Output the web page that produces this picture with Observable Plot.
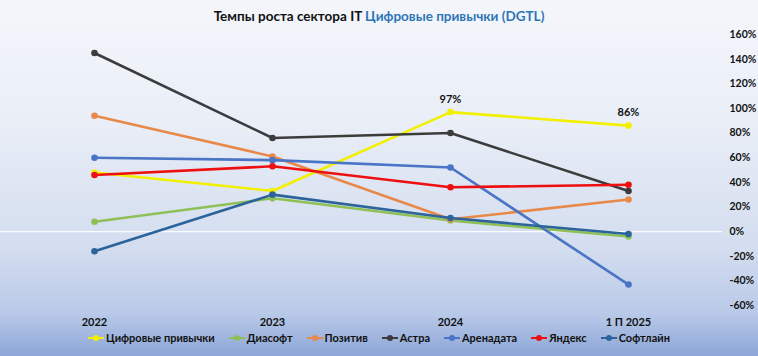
<!DOCTYPE html>
<html>
<head>
<meta charset="utf-8">
<script src="https://cdn.jsdelivr.net/npm/d3@7"></script>
<script src="https://cdn.jsdelivr.net/npm/@observablehq/plot@0.6"></script>
<style>
  html, body { margin: 0; padding: 0; }
  #wrap {
    width: 758px; height: 356px; position: relative; overflow: hidden;
    background: linear-gradient(to bottom, #f4f6fb 0%, #e9eef7 35%, #d3ddef 70%, #b9c9e8 88%, #8ca6d7 100%);
    font-family: Lato, "Noto Sans", sans-serif;
  }
  #title {
    height: 30px; line-height: 33px; text-align: center;
    font-weight: 700; font-size: 13.5px; color: #111;
  }
  #title span { color: #2e75b6; }
  #legend {
    position: absolute; left: 0; top: 331px; width: 758px;
    display: flex; justify-content: center; gap: 14px;
    font-size: 11px; font-weight: 700; color: #111;
  }
  .item { display: flex; align-items: center; gap: 2px; }
  .sw { position: relative; width: 16px; height: 8px; }
  .sw i { position: absolute; left: 0; right: 0; top: 3px; height: 2.5px; }
  .sw b { position: absolute; left: 5px; top: 1px; width: 6px; height: 6px; border-radius: 50%; }
  svg { display: block; overflow: visible; }
</style>
</head>
<body>
<div id="wrap">
  <div id="title">Темпы роста сектора IT <span>Цифровые привычки (DGTL)</span></div>
  <div id="chart"></div>
  <div id="legend"></div>
</div>
<script>
const periods = ["2022", "2023", "2024", "1 П 2025"];
const seriesNames = ["Цифровые привычки", "Диасофт", "Позитив", "Астра", "Аренадата", "Яндекс", "Софтлайн"];
const seriesColors = ["#f2f000", "#8fc056", "#e8894a", "#3c3c3c", "#4a74c6", "#ee1010", "#2b639a"];
const digitalHabits = [48, 33, 97, 86];
const diasoft = [8, 27, 9, -4];
const positive = [94, 61, 10, 26];
const astra = [145, 76, 80, 33];
const arenadata = [60, 58, 52, -43];
const yandex = [46, 53, 36, 38];
const softline = [-16, 30, 11, -2];
const labeledIndices = [2, 3];
const yTicks = [-60, -40, -20, 0, 20, 40, 60, 80, 100, 120, 140, 160];

const allValues = [digitalHabits, diasoft, positive, astra, arenadata, yandex, softline];
const rows = [];
seriesNames.forEach((name, s) => {
  allValues[s].forEach((v, i) => rows.push({series: name, period: periods[i], value: v, idx: i, s}));
});
const labelRows = rows.filter(d => d.s === 0 && labeledIndices.includes(d.idx));

const plot = Plot.plot({
  width: 758,
  height: 300,
  marginLeft: 0,
  marginRight: 36,
  marginTop: 4,
  marginBottom: 25,
  style: {background: "transparent", fontFamily: "Lato, 'Noto Sans', sans-serif", overflow: "visible"},
  x: {type: "point", domain: periods, padding: 0.528, label: null},
  y: {domain: [-60, 160], label: null},
  color: {domain: seriesNames, range: seriesColors},
  marks: [
    Plot.ruleY([0], {stroke: "#ffffff", strokeWidth: 1.2, strokeOpacity: 0.9}),
    Plot.axisY({anchor: "right", ticks: yTicks, tickSize: 0, tickPadding: 7,
      tickFormat: d => d + "%", fontSize: 10.5, fontWeight: 700, fill: "#111", textAnchor: "start"}),
    Plot.axisX({anchor: "bottom", tickSize: 0, tickPadding: 13, fontSize: 11, fontWeight: 700, fill: "#111"}),
    ...seriesNames.map((name, s) => Plot.line(rows.filter(d => d.s === s), {
      x: "period", y: "value", stroke: seriesColors[s], strokeWidth: 2.6
    })),
    ...seriesNames.map((name, s) => Plot.dot(rows.filter(d => d.s === s), {
      x: "period", y: "value", fill: seriesColors[s], r: 3.3
    })),
    Plot.text(labelRows, {x: "period", y: "value", text: d => d.value + "%", dy: -13,
      fontSize: 11, fontWeight: 700, fill: "#111"})
  ]
});
document.getElementById("chart").appendChild(plot);

const legend = document.getElementById("legend");
seriesNames.forEach((name, s) => {
  const it = document.createElement("div");
  it.className = "item";
  it.innerHTML = `<span class="sw"><i style="background:${seriesColors[s]}"></i><b style="background:${seriesColors[s]}"></b></span><span>${name}</span>`;
  legend.appendChild(it);
});
</script>
</body>
</html>
